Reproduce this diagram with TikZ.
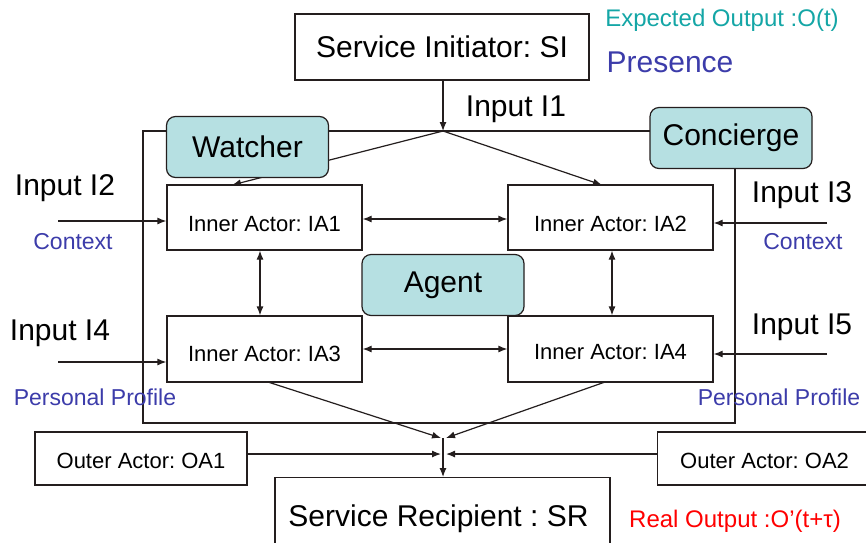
\documentclass[tikz,border=0pt]{standalone}
\usepackage{fontspec}
\setmainfont{Liberation Sans}
\usetikzlibrary{arrows.meta}
\frenchspacing
\definecolor{linecol}{RGB}{36,30,30}
\definecolor{rolefill}{RGB}{182,224,226}
\definecolor{tealtxt}{RGB}{20,166,166}
\definecolor{bluetxt}{RGB}{60,60,170}
\definecolor{redtxt}{RGB}{255,0,0}
\newcommand{\fsz}[1]{\fontsize{#1}{#1}\selectfont}
\tikzset{
  conn/.style={draw=linecol, line width=1.2pt},
  arr/.style={conn, -{Latex[length=9pt,width=7pt]}},
  biarr/.style={conn, {Latex[length=9pt,width=7pt]}-{Latex[length=9pt,width=7pt]}},
  actor/.style={draw=linecol, line width=1.2pt, fill=white, inner sep=0pt},
  inner/.style={actor, minimum height=65pt, font=\fsz{22}, text depth=0pt},
  role/.style={draw=linecol, line width=1.2pt, fill=rolefill, rounded corners=9pt,
    inner sep=0pt, minimum width=162pt, minimum height=61pt, font=\fsz{30}},
  lbl/.style={inner sep=0pt, font=\fsz{30}},
  note/.style={inner sep=0pt, font=\fsz{23}, text=bluetxt},
}
\begin{document}
\begin{tikzpicture}[x=1pt, y=-1pt]
\useasboundingbox (0,0) rectangle (866,542);
\clip (0,0) rectangle (866,542);
\fill[white] (0,0) rectangle (866,542);

% frame of the service system
\coordinate (fTL) at (143,131);
\coordinate (fBR) at (735,423);
\draw[conn] (fTL) rectangle (fBR);

% service initiator
\node[actor, minimum width=294pt, minimum height=66pt, font=\fsz{30}] (SI) at (442,47) {Service Initiator: SI};
\coordinate (j1) at (443,131);

% inner actors
\node[inner, minimum width=195pt, text height=27pt] (IA1) at (264.5,217.5) {Inner Actor: IA1};
\node[inner, minimum width=205pt, text height=28pt] (IA2) at (610.5,217.5) {Inner Actor: IA2};
\node[inner, minimum width=195pt, minimum height=66pt, text height=24pt] (IA3) at (264.5,349) {Inner Actor: IA3};
\node[inner, minimum width=205pt, minimum height=66pt, text height=20pt] (IA4) at (610.5,349) {Inner Actor: IA4};

% flow from the initiator into the system
\draw[arr] (SI.south -| j1) -- (j1);
\coordinate (ia1in) at (232,185);
\coordinate (ia2in) at (602,185);
\draw[arr] (j1) -- (ia1in);
\draw[arr] (j1) -- (ia2in);

% role boxes
\node[role] (W) at (247.5,147) {Watcher};
\node[role] (C) at (731,138) {Concierge};
\node[role] (A) at (443,285) {Agent};

% links between inner actors
\draw[biarr] ([yshift=-1.5pt]IA1.east) -- ([yshift=-1.5pt]IA2.west);
\draw[biarr] (IA3.east) -- (IA4.west);
\draw[biarr] ([xshift=-4.5pt]IA1.south) -- ([xshift=-4.5pt]IA3.north);
\draw[biarr] ([xshift=1.5pt]IA2.south) -- ([xshift=1.5pt]IA4.north);

% external inputs
\coordinate (i2) at (58,221);
\coordinate (i4) at (58,362);
\coordinate (i3) at (827,223);
\coordinate (i5) at (827,354);
\draw[arr] (i2) -- (i2 -| IA1.west);
\draw[arr] (i4) -- (i4 -| IA3.west);
\draw[arr] (i3) -- (i3 -| IA2.east);
\draw[arr] (i5) -- (i5 -| IA4.east);

\node[lbl] (tI1) at (516,109) {Input I1};
\node[lbl] (tI2) at (65,188) {Input I2};
\node[lbl] (tI4) at (60,333) {Input I4};
\node[lbl] (tI3) at (802,195) {Input I3};
\node[lbl] (tI5) at (802,327) {Input I5};
\node[note] (c1) at (73,242) {Context};
\node[note] (c2) at (803,242) {Context};
\node[note] (p1) at (95,397) {Personal Profile};
\node[note] (p2) at (779,397) {Personal Profile};

% outer actors and service recipient
\node[actor, minimum width=212pt, minimum height=53pt, font=\fsz{22}, text height=20pt, text depth=0pt] (OA1) at (141,458.5) {Outer Actor: OA1};
\node[actor, minimum width=230pt, minimum height=53pt, font=\fsz{22}, text height=20pt, text depth=0pt, anchor=west] (OA2) at (657,458.5) {\hspace*{-16pt}Outer Actor: OA2};
\node[actor, minimum width=335pt, minimum height=86pt, font=\fsz{30}, text height=11pt, text depth=0pt, anchor=north] (SR) at (442.5,477) {\hspace*{-8pt}Service Recipient : SR};

\coordinate (jb) at (443,438);
\coordinate (jo) at (443,454);
\coordinate (ia3out) at (268,382);
\coordinate (ia4out) at (605,382);
\draw[arr] (ia3out) -- ([xshift=-2pt]jb);
\draw[arr] (ia4out) -- ([xshift=3pt]jb);
\draw[arr] (OA1.east |- jo) -- ([xshift=-2pt]jo);
\draw[arr] (OA2.west |- jo) -- ([xshift=3pt]jo);
\draw[arr] (jb) -- (jb |- SR.north);

% outputs
\node[inner sep=0pt, font=\fsz{24}, text=tealtxt] (eo) at (722,20) {Expected Output :O(t)};
\node[inner sep=0pt, font=\fsz{30}, text=bluetxt] (pr) at (670,62) {Presence};
\node[inner sep=0pt, font=\fsz{24}, text=redtxt] (ro) at (735,521) {Real Output :O’(t+τ)};
\end{tikzpicture}
\end{document}
